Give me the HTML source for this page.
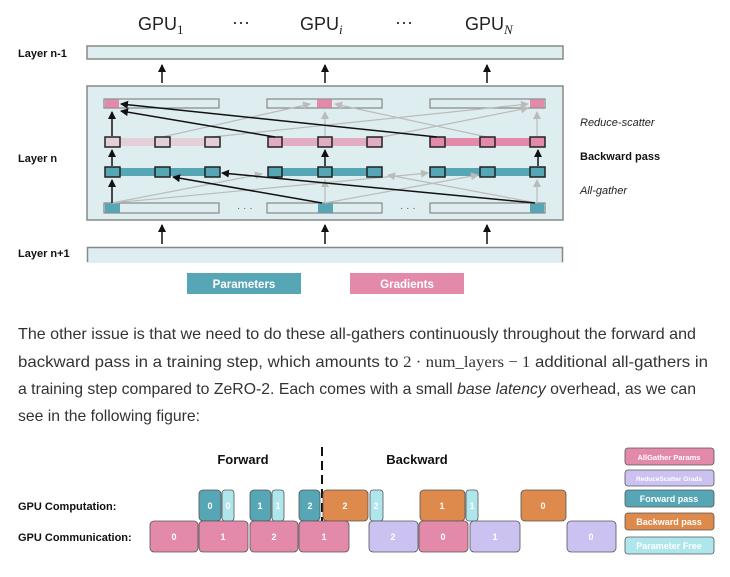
<!DOCTYPE html>
<html><head><meta charset="utf-8"><style>
body{margin:0;background:#fff;}
svg{display:block;font-family:"Liberation Sans",sans-serif;}
</style></head><body>
<svg width="730" height="577" viewBox="0 0 730 577" xmlns="http://www.w3.org/2000/svg">
<defs>
<marker id="ab" markerWidth="8" markerHeight="8" refX="7" refY="4" orient="auto" markerUnits="userSpaceOnUse"><path d="M0,0 L8,4 L0,8 z" fill="#111"/></marker>
<marker id="ag" markerWidth="8" markerHeight="8" refX="7" refY="4" orient="auto" markerUnits="userSpaceOnUse"><path d="M0,0 L8,4 L0,8 z" fill="#bbb"/></marker>
</defs>
<!-- GPU labels -->
<g font-size="18" fill="#222">
<text x="138" y="30">GPU<tspan font-family="Liberation Serif" font-size="13" dy="4">1</tspan></text>
<text x="232" y="28">···</text>
<text x="300" y="30">GPU<tspan font-family="Liberation Serif" font-style="italic" font-size="13" dy="4">i</tspan></text>
<text x="395" y="28">···</text>
<text x="465" y="30">GPU<tspan font-family="Liberation Serif" font-style="italic" font-size="13" dy="4">N</tspan></text>
</g>
<g font-size="11" font-weight="bold" fill="#111">
<text x="18" y="57">Layer n-1</text>
<text x="18" y="162">Layer n</text>
<text x="18" y="257">Layer n+1</text>
<text x="580" y="160">Backward pass</text>
</g>
<g font-size="11" font-style="italic" fill="#222">
<text x="580" y="126">Reduce-scatter</text>
<text x="580" y="194">All-gather</text>
</g>
<rect x="87" y="46" width="476" height="13" fill="#deedef" stroke="#888" stroke-width="1.5"/>
<rect x="87" y="86" width="476" height="134" fill="#deedef" stroke="#888" stroke-width="1.5"/>
<rect x="87" y="247" width="476" height="16" fill="#deedef"/>
<path d="M87.5,262 V247.5 H562.5 V262" fill="none" stroke="#888" stroke-width="1.5"/>
<g stroke="#111" stroke-width="1.5">
<line x1="162" y1="83" x2="162" y2="65" marker-end="url(#ab)"/>
<line x1="325" y1="83" x2="325" y2="65" marker-end="url(#ab)"/>
<line x1="487" y1="83" x2="487" y2="65" marker-end="url(#ab)"/>
<line x1="162" y1="244" x2="162" y2="225" marker-end="url(#ab)"/>
<line x1="325" y1="244" x2="325" y2="225" marker-end="url(#ab)"/>
<line x1="487" y1="244" x2="487" y2="225" marker-end="url(#ab)"/>
</g>
<!-- top bars -->
<g stroke="#888" stroke-width="1.2" fill="#deedef">
<rect x="104" y="99" width="115" height="9"/><rect x="267" y="99" width="115" height="9"/><rect x="430" y="99" width="115" height="9"/>
<rect x="104" y="203" width="115" height="10"/><rect x="267" y="203" width="115" height="10"/><rect x="430" y="203" width="115" height="10"/>
</g>
<g fill="#e38aaa"><rect x="105" y="99.6" width="14" height="8"/><rect x="317" y="99.6" width="15" height="8"/><rect x="530" y="99.6" width="14" height="8"/></g>
<g fill="#56a6b5"><rect x="105" y="203.6" width="15" height="9"/><rect x="318" y="203.6" width="15" height="9"/><rect x="530" y="203.6" width="14" height="9"/></g>
<text x="237" y="211" font-size="10" fill="#555">· · ·</text>
<text x="400" y="211" font-size="10" fill="#555">· · ·</text>
<!-- backward row bands -->
<rect x="105" y="138" width="115" height="8" fill="#e4cfd9"/>
<rect x="268" y="138" width="114" height="8" fill="#e2acc2"/>
<rect x="430" y="138" width="115" height="8" fill="#e38aaa"/>
<rect x="105" y="168" width="115" height="8" fill="#56a6b5"/>
<rect x="268" y="168" width="114" height="8" fill="#56a6b5"/>
<rect x="430" y="168" width="115" height="8" fill="#56a6b5"/>
<!-- gray arrows -->
<g stroke="#bbb" stroke-width="1.2" fill="none">
<line x1="162" y1="137" x2="310" y2="104" marker-end="url(#ag)"/>
<line x1="212" y1="137" x2="528" y2="104" marker-end="url(#ag)"/>
<line x1="325" y1="137" x2="325" y2="112" marker-end="url(#ag)"/>
<line x1="382" y1="137" x2="528" y2="108" marker-end="url(#ag)"/>
<line x1="487" y1="137" x2="335" y2="104" marker-end="url(#ag)"/>
<line x1="537" y1="137" x2="537" y2="112" marker-end="url(#ag)"/>
<line x1="112" y1="203" x2="262" y2="174" marker-end="url(#ag)"/>
<line x1="112" y1="203" x2="428" y2="173" marker-end="url(#ag)"/>
<line x1="325" y1="203" x2="325" y2="180" marker-end="url(#ag)"/>
<line x1="325" y1="203" x2="478" y2="175" marker-end="url(#ag)"/>
<line x1="537" y1="203" x2="388" y2="175" marker-end="url(#ag)"/>
<line x1="537" y1="203" x2="537" y2="180" marker-end="url(#ag)"/>
</g>
<!-- squares -->
<g stroke="#222" stroke-width="1.5">
<g fill="#e4cfd9"><rect x="105" y="137" width="15" height="10"/><rect x="155" y="137" width="15" height="10"/><rect x="205" y="137" width="15" height="10"/></g>
<g fill="#e2acc2"><rect x="268" y="137" width="14" height="10"/><rect x="318" y="137" width="14" height="10"/><rect x="367" y="137" width="15" height="10"/></g>
<g fill="#e38aaa"><rect x="430" y="137" width="15" height="10"/><rect x="480" y="137" width="15" height="10"/><rect x="530" y="137" width="15" height="10"/></g>
<g fill="#56a6b5">
<rect x="105" y="167" width="15" height="10"/><rect x="155" y="167" width="15" height="10"/><rect x="205" y="167" width="15" height="10"/>
<rect x="268" y="167" width="14" height="10"/><rect x="318" y="167" width="14" height="10"/><rect x="367" y="167" width="15" height="10"/>
<rect x="430" y="167" width="15" height="10"/><rect x="480" y="167" width="15" height="10"/><rect x="530" y="167" width="15" height="10"/></g>
</g>
<!-- black arrows -->
<g stroke="#111" stroke-width="1.5" fill="none">
<line x1="112" y1="203" x2="112" y2="180" marker-end="url(#ab)"/>
<line x1="112" y1="166" x2="112" y2="150" marker-end="url(#ab)"/>
<line x1="112" y1="136" x2="112" y2="112" marker-end="url(#ab)"/>
<line x1="325" y1="166" x2="325" y2="150" marker-end="url(#ab)"/>
<line x1="538" y1="166" x2="538" y2="150" marker-end="url(#ab)"/>
<line x1="275" y1="137" x2="121" y2="111" marker-end="url(#ab)"/>
<line x1="437" y1="137" x2="121" y2="104" marker-end="url(#ab)"/>
<line x1="322" y1="203" x2="173" y2="177" marker-end="url(#ab)"/>
<line x1="535" y1="203" x2="222" y2="173" marker-end="url(#ab)"/>
</g>
<!-- legend -->
<rect x="187" y="273" width="114" height="21" fill="#56a6b5"/>
<text x="244" y="288" font-size="11.5" font-weight="bold" fill="#fff" text-anchor="middle">Parameters</text>
<rect x="350" y="273" width="114" height="21" fill="#e38aaa"/>
<text x="407" y="288" font-size="11.5" font-weight="bold" fill="#fff" text-anchor="middle">Gradients</text>
<!-- paragraph -->
<g font-size="16" fill="#333">
<text x="18" y="339" textLength="678" lengthAdjust="spacingAndGlyphs">The other issue is that we need to do these all-gathers continuously throughout the forward and</text>
<text x="18" y="367" textLength="690" lengthAdjust="spacingAndGlyphs">backward pass in a training step, which amounts to <tspan font-family="Liberation Serif">2 · num_layers − 1</tspan> additional all-gathers in</text>
<text x="18" y="394" textLength="678" lengthAdjust="spacingAndGlyphs">a training step compared to ZeRO-2. Each comes with a small <tspan font-style="italic">base latency</tspan> overhead, as we can</text>
<text x="18" y="421" textLength="182" lengthAdjust="spacingAndGlyphs">see in the following figure:</text>
</g>
<!-- bottom figure -->
<text x="243" y="464" font-size="13" font-weight="bold" fill="#111" text-anchor="middle">Forward</text>
<text x="417" y="464" font-size="13" font-weight="bold" fill="#111" text-anchor="middle">Backward</text>
<line x1="322" y1="447" x2="322" y2="522" stroke="#111" stroke-width="2" stroke-dasharray="9,5"/>
<text x="18" y="510" font-size="11" font-weight="bold" fill="#111">GPU Computation:</text>
<text x="18" y="541" font-size="11" font-weight="bold" fill="#111">GPU Communication:</text>
<g stroke="#555" stroke-width="0.8" font-size="9" font-weight="bold" fill="#fff">
<rect x="199" y="490" width="22" height="31" rx="4" fill="#56a6b5"/>
<rect x="222" y="490" width="12" height="31" rx="3" fill="#aee6ec"/>
<rect x="250" y="490" width="21" height="31" rx="4" fill="#56a6b5"/>
<rect x="272" y="490" width="12" height="31" rx="3" fill="#aee6ec"/>
<rect x="299" y="490" width="21" height="31" rx="4" fill="#56a6b5"/>
<rect x="323" y="490" width="45" height="31" rx="4" fill="#de8a4c"/>
<rect x="370" y="490" width="13" height="31" rx="3" fill="#aee6ec"/>
<rect x="420" y="490" width="45" height="31" rx="4" fill="#de8a4c"/>
<rect x="466" y="490" width="12" height="31" rx="3" fill="#aee6ec"/>
<rect x="521" y="490" width="45" height="31" rx="4" fill="#de8a4c"/>
<rect x="150" y="521" width="48" height="31" rx="4" fill="#e38aaa"/>
<rect x="199" y="521" width="49" height="31" rx="4" fill="#e38aaa"/>
<rect x="250" y="521" width="48" height="31" rx="4" fill="#e38aaa"/>
<rect x="299" y="521" width="50" height="31" rx="4" fill="#e38aaa"/>
<rect x="369" y="521" width="49" height="31" rx="4" fill="#ccc2f2"/>
<rect x="419" y="521" width="49" height="31" rx="4" fill="#e38aaa"/>
<rect x="470" y="521" width="50" height="31" rx="4" fill="#ccc2f2"/>
<rect x="567" y="521" width="49" height="31" rx="4" fill="#ccc2f2"/>
</g>
<g font-size="9" font-weight="bold" fill="#fff" text-anchor="middle">
<text x="210" y="509">0</text><text x="228" y="509">0</text><text x="260" y="509">1</text><text x="278" y="509">1</text>
<text x="310" y="509">2</text><text x="345" y="509">2</text><text x="376" y="509">2</text><text x="442" y="509">1</text>
<text x="472" y="509">1</text><text x="543" y="509">0</text>
<text x="174" y="540">0</text><text x="223" y="540">1</text><text x="274" y="540">2</text><text x="324" y="540">1</text>
<text x="393" y="540">2</text><text x="443" y="540">0</text><text x="495" y="540">1</text><text x="591" y="540">0</text>
</g>
<g stroke="#555" stroke-width="0.8">
<rect x="625" y="448" width="89" height="17" rx="3" fill="#e38aaa"/>
<rect x="625" y="470" width="89" height="16" rx="3" fill="#ccc2f2"/>
<rect x="625" y="490" width="89" height="17" rx="3" fill="#56a6b5"/>
<rect x="625" y="513" width="89" height="17" rx="3" fill="#de8a4c"/>
<rect x="625" y="537" width="89" height="17" rx="3" fill="#aee6ec"/>
</g>
<g font-size="8" fill="#fff" text-anchor="middle" font-weight="bold">
<text x="669" y="460" font-size="7.5">AllGather Params</text>
<text x="669" y="481" font-size="6.5">ReduceScatter Grads</text>
<text x="669" y="502" font-size="9">Forward pass</text>
<text x="669" y="525" font-size="9">Backward pass</text>
<text x="669" y="549" font-size="9">Parameter Free</text>
</g>
</svg>
</body></html>
